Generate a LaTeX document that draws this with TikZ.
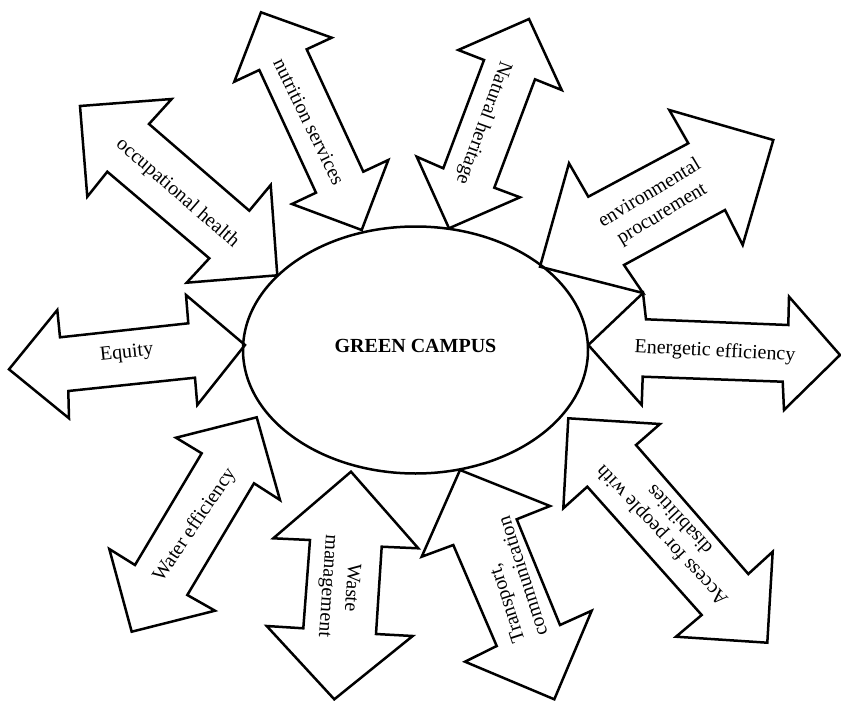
\documentclass[tikz,border=0pt]{standalone}
\usepackage{fontspec}
\setmainfont{Liberation Serif}
\usetikzlibrary{shapes.geometric}
\tikzset{
	twoway/.style={draw, line width=2.5pt, line join=miter},
	txt/.style={font=\fontsize{20}{24}\selectfont, align=center, inner sep=0pt}
}
\begin{document}
\begin{tikzpicture}[x=1pt,y=-1pt]
	\useasboundingbox (0,0) rectangle (841,701);
	% centre
	\node[draw, ellipse, line width=2.5pt, minimum width=345pt, minimum height=247pt] (campus) at (415.5,350) {};
	\node[font=\fontsize{20}{22}\selectfont\bfseries, inner sep=0pt] (title) at (415.5,346) {GREEN CAMPUS};
	% arrows, clockwise from the left
	\draw[twoway] (9,369.3)--(57.3,310)--(60,337.3)--(188.3,323.3)--(186,295)--(245,345)--(197.3,405)--(195,377.7)--(68.3,391)--(69,418.3)--cycle;
	\node[txt, rotate=6] (equity) at (126.7,353.3) {Equity};
	\draw[twoway] (80,106)--(171.7,99)--(149,124)--(249.3,210.7)--(270.7,185)--(277.3,275.3)--(186.7,282.7)--(209.3,258.3)--(107.3,171.7)--(87.3,196.7)--cycle;
	\node[txt, rotate=-41] (health) at (177.3,193.3) {occupational health};
	\draw[twoway] (261,12.3)--(331.7,37.7)--(306.7,49.3)--(363.3,171.7)--(388.3,160)--(361.7,230)--(292,204)--(316,192.7)--(259.3,70)--(234.3,81.7)--cycle;
	\node[txt, rotate=-64] (nutrition) at (309,121.7) {nutrition services};
	\draw[twoway] (529,19)--(561.7,90)--(535,79.3)--(494.3,187.7)--(520,197.3)--(449,228.3)--(416.7,156.7)--(443.3,168.3)--(484,60)--(458.3,50)--cycle;
	\node[txt, rotate=-110] (heritage) at (483.3,122.7) {Natural heritage};
	\draw[twoway] (540,266.7)--(569,163.3)--(588.3,196.7)--(688.3,143.3)--(669.3,110)--(773.3,140)--(742.7,245)--(725,210)--(624,265)--(643,293)--cycle;
	\node[txt, rotate=31] (procure) at (656,204) {environmental\\procurement};
	\draw[twoway] (588.3,345)--(643,293)--(646,319.3)--(788.3,325)--(789,296.7)--(840,355)--(784,410)--(782.7,381.7)--(642.7,376.7)--(641.7,405)--cycle;
	\node[txt, rotate=-3] (energy) at (715,351.7) {Energetic efficiency};
	\draw[twoway] (568.3,418.3)--(660,424)--(636,445)--(748.3,574)--(772.7,551.7)--(767.3,642.7)--(676,636.7)--(701.7,615)--(587.3,486.7)--(563.3,508.3)--cycle;
	\node[txt, rotate=133] (access) at (670,528.3) {Access for people with\\disabilities};
	\draw[twoway] (460,470)--(550,506)--(516.7,519.3)--(560,625)--(591.7,610.7)--(554.3,699.3)--(465,661.7)--(496.7,646)--(453.3,545)--(421.7,556.7)--cycle;
	\node[txt, align=left, rotate=108] (transport) at (511,580) {Transport,\\communication};
	\draw[twoway] (351,471.7)--(418.3,548.3)--(381.7,546.7)--(376,634)--(412.7,636)--(334.3,699.3)--(266.7,626)--(303.3,628.3)--(310,540)--(273.3,538.3)--cycle;
	\node[txt, rotate=-94] (waste) at (339,586.7) {Waste\\management};
	\draw[twoway] (256.7,417.3)--(280,500)--(254,483.3)--(187.3,595)--(215,610.7)--(131.7,631.7)--(109.3,549)--(135,565)--(201.7,453.3)--(176,437.7)--cycle;
	\node[txt, rotate=56] (water) at (195,525) {Water efficiency};
\end{tikzpicture}
\end{document}
